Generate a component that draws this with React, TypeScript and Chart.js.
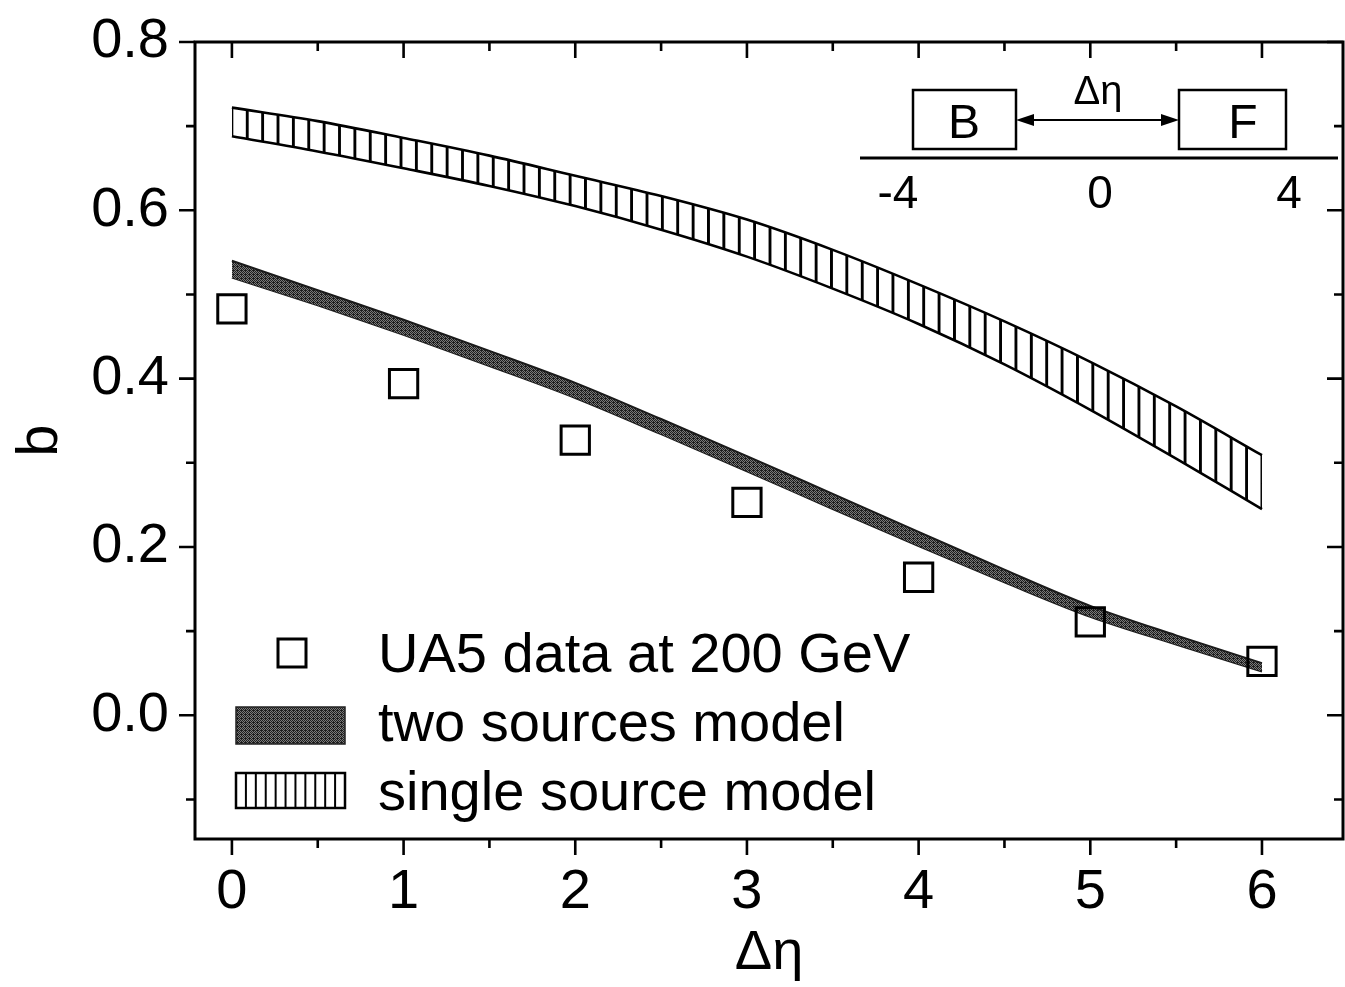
import React, { useEffect, useRef } from 'react';
import { Chart, registerables } from 'chart.js';

Chart.register(...registerables);

// ---- data ----
const etaGrid = [0, 0.5, 1, 1.5, 2, 2.5, 3, 3.5, 4, 4.5, 5, 5.5, 6];
const singleUpper = [0.722, 0.706, 0.686, 0.665, 0.641, 0.617, 0.589, 0.553, 0.512, 0.468, 0.42, 0.367, 0.309];
const singleLower = [0.688, 0.67, 0.65, 0.629, 0.605, 0.577, 0.545, 0.507, 0.465, 0.417, 0.363, 0.305, 0.245];
const twoUpper = [0.54, 0.505, 0.47, 0.433, 0.395, 0.352, 0.308, 0.263, 0.218, 0.173, 0.13, 0.095, 0.062];
const twoLower = [0.52, 0.487, 0.452, 0.415, 0.377, 0.334, 0.29, 0.245, 0.201, 0.158, 0.117, 0.084, 0.052];
const ua5Eta = [0, 1, 2, 3, 4, 5, 6];
const ua5B = [0.483, 0.394, 0.327, 0.253, 0.164, 0.111, 0.064];

const xTicks = [0, 1, 2, 3, 4, 5, 6];
const xMinorTicks = [0.5, 1.5, 2.5, 3.5, 4.5, 5.5];
const yTicks = [0, 0.2, 0.4, 0.6, 0.8];
const yMinorTicks = [-0.1, 0.1, 0.3, 0.5, 0.7];

const legendLabels = ['UA5 data at 200 GeV', 'two sources model', 'single source model'];
const insetAxisLabels = ['-4', '0', '4'];
const insetBoxLabels = ['B', 'F'];
const xTitle = 'Δη';
const yTitle = 'b';

const FONT = '"Liberation Sans", Arial, Helvetica, sans-serif';

function makeHatch(): HTMLCanvasElement {
  const c = document.createElement('canvas');
  c.width = 16;
  c.height = 4;
  const g = c.getContext('2d')!;
  g.fillStyle = '#000';
  g.fillRect(0, 0, 3, 4);
  return c;
}

function makeDark(): HTMLCanvasElement {
  const c = document.createElement('canvas');
  c.width = 4;
  c.height = 4;
  const g = c.getContext('2d')!;
  g.fillStyle = '#7a7a7a';
  g.fillRect(0, 0, 4, 4);
  g.fillStyle = '#1e1e1e';
  for (let i = 0; i < 4; i++) {
    for (let j = 0; j < 4; j++) {
      if ((i + j) % 2 === 0 || (i === 1 && j === 2)) g.fillRect(i, j, 1, 1);
    }
  }
  return c;
}

const zeroPad = (s: any) => {
  s.paddingTop = 0;
  s.paddingBottom = 0;
  s.paddingLeft = 0;
  s.paddingRight = 0;
};

export default function App() {
  const ref = useRef<HTMLCanvasElement | null>(null);

  useEffect(() => {
    const canvas = ref.current!;
    const ctx0 = canvas.getContext('2d')!;
    const hatch = ctx0.createPattern(makeHatch(), 'repeat')!;
    const dark = ctx0.createPattern(makeDark(), 'repeat')!;

    const patternAlign = {
      id: 'patternAlign',
      beforeDraw(chart: any) {
        const x = chart.scales.x;
        const x0 = x.getPixelForValue(0);
        const x6 = x.getPixelForValue(6);
        const step = (x6 - x0) / 67;
        hatch.setTransform(new DOMMatrix([step / 16, 0, 0, 1, x0 - 1.5, 0]));
      },
    };

    const frame = {
      id: 'frame',
      afterDraw(chart: any) {
        const { ctx, chartArea: a, scales } = chart;
        const x = scales.x;
        const y = scales.y;
        ctx.save();
        ctx.strokeStyle = '#000';
        ctx.lineWidth = 3;
        ctx.strokeRect(a.left, a.top, a.right - a.left, a.bottom - a.top);
        ctx.lineWidth = 2.6;
        const MAJ = 16;
        const MIN = 9;
        const vt = (vals: number[], len: number) => {
          vals.forEach((v) => {
            const px = x.getPixelForValue(v);
            ctx.beginPath();
            ctx.moveTo(px, a.bottom);
            ctx.lineTo(px, a.bottom + len);
            ctx.moveTo(px, a.top);
            ctx.lineTo(px, a.top + len);
            ctx.stroke();
          });
        };
        const ht = (vals: number[], len: number) => {
          vals.forEach((v) => {
            const py = y.getPixelForValue(v);
            ctx.beginPath();
            ctx.moveTo(a.left - len, py);
            ctx.lineTo(a.left, py);
            ctx.moveTo(a.right - len, py);
            ctx.lineTo(a.right, py);
            ctx.stroke();
          });
        };
        vt(xTicks, MAJ);
        vt(xMinorTicks, MIN);
        ht(yTicks, MAJ);
        ht(yMinorTicks, MIN);
        ctx.restore();
      },
    };

    const legendAndInset = {
      id: 'legendAndInset',
      afterDraw(chart: any) {
        const { ctx, chartArea: a } = chart;
        ctx.save();
        ctx.fillStyle = '#000';
        ctx.strokeStyle = '#000';
        // ---- legend ----
        const lx = a.left + 41;
        const sw = 109;
        ctx.font = `56px ${FONT}`;
        ctx.textAlign = 'left';
        ctx.textBaseline = 'alphabetic';
        ctx.lineWidth = 3;
        ctx.strokeRect(278, 639, 28, 28);
        ctx.fillText(legendLabels[0], 378, 672);
        ctx.fillStyle = dark;
        ctx.fillRect(lx, 707, sw, 37);
        ctx.lineWidth = 1.5;
        ctx.strokeStyle = '#222';
        ctx.strokeRect(lx, 707, sw, 37);
        ctx.fillStyle = '#000';
        ctx.fillText(legendLabels[1], 378, 741);
        ctx.strokeStyle = '#000';
        ctx.lineWidth = 2.5;
        ctx.strokeRect(lx, 773, sw, 35);
        ctx.lineWidth = 2;
        for (let k = 1; k < 11; k++) {
          const xx = lx + k * (sw / 11);
          ctx.beginPath();
          ctx.moveTo(xx, 773);
          ctx.lineTo(xx, 808);
          ctx.stroke();
        }
        ctx.fillText(legendLabels[2], 378, 810);

        // ---- inset ----
        const ox = a.right;
        const oy = a.top;
        ctx.lineWidth = 2.5;
        ctx.strokeRect(ox - 430, oy + 48, 103, 59);
        ctx.strokeRect(ox - 164, oy + 48, 107, 59);
        ctx.font = `48px ${FONT}`;
        ctx.textAlign = 'center';
        ctx.fillText(insetBoxLabels[0], ox - 379, oy + 96);
        ctx.fillText(insetBoxLabels[1], ox - 100, oy + 96);
        const ay = oy + 78;
        const x1 = ox - 327;
        const x2 = ox - 164;
        ctx.lineWidth = 2;
        ctx.beginPath();
        ctx.moveTo(x1 + 10, ay);
        ctx.lineTo(x2 - 10, ay);
        ctx.stroke();
        ctx.beginPath();
        ctx.moveTo(x1, ay);
        ctx.lineTo(x1 + 18, ay - 6);
        ctx.lineTo(x1 + 18, ay + 6);
        ctx.closePath();
        ctx.fill();
        ctx.beginPath();
        ctx.moveTo(x2, ay);
        ctx.lineTo(x2 - 18, ay - 6);
        ctx.lineTo(x2 - 18, ay + 6);
        ctx.closePath();
        ctx.fill();
        ctx.font = `40px ${FONT}`;
        ctx.fillText(xTitle, ox - 245, oy + 62);
        ctx.lineWidth = 3;
        ctx.beginPath();
        ctx.moveTo(ox - 483, oy + 116);
        ctx.lineTo(ox - 5, oy + 116);
        ctx.stroke();
        ctx.font = `46px ${FONT}`;
        const lxs = [ox - 445, ox - 243, ox - 54];
        insetAxisLabels.forEach((t, i) => ctx.fillText(t, lxs[i], oy + 166));
        ctx.restore();
      },
    };

    const chart = new Chart(canvas, {
      type: 'line',
      data: {
        datasets: [
          {
            label: legendLabels[0],
            data: ua5Eta.map((e, i) => ({ x: e, y: ua5B[i] })),
            showLine: false,
            pointStyle: 'rect',
            pointRadius: 20,
            pointBorderWidth: 3,
            pointBorderColor: '#000',
            pointBackgroundColor: 'rgba(0,0,0,0)',
            borderColor: '#000',
            backgroundColor: 'rgba(0,0,0,0)',
            fill: false,
          },
          {
            label: 'single upper',
            data: etaGrid.map((e, i) => ({ x: e, y: singleUpper[i] })),
            borderColor: '#000',
            borderWidth: 2.6,
            pointRadius: 0,
            cubicInterpolationMode: 'monotone',
            fill: '+1',
            backgroundColor: hatch,
          },
          {
            label: 'single lower',
            data: etaGrid.map((e, i) => ({ x: e, y: singleLower[i] })),
            borderColor: '#000',
            borderWidth: 2.6,
            pointRadius: 0,
            cubicInterpolationMode: 'monotone',
            fill: false,
          },
          {
            label: 'two upper',
            data: etaGrid.map((e, i) => ({ x: e, y: twoUpper[i] })),
            borderColor: '#1a1a1a',
            borderWidth: 2,
            pointRadius: 0,
            cubicInterpolationMode: 'monotone',
            fill: '+1',
            backgroundColor: dark,
          },
          {
            label: 'two lower',
            data: etaGrid.map((e, i) => ({ x: e, y: twoLower[i] })),
            borderColor: '#1a1a1a',
            borderWidth: 2,
            pointRadius: 0,
            cubicInterpolationMode: 'monotone',
            fill: false,
          },
        ],
      },
      options: {
        responsive: false,
        animation: false,
        layout: { autoPadding: false, padding: { top: 42, right: 2, left: 0, bottom: 0 } },
        plugins: {
          legend: { display: false },
          tooltip: { enabled: false },
        },
        scales: {
          x: {
            type: 'linear',
            min: -0.215,
            max: 6.472,
            afterFit: (s: any) => {
              s.height = 148;
              zeroPad(s);
            },
            afterBuildTicks: (s: any) => {
              s.ticks = xTicks.map((v) => ({ value: v }));
            },
            grid: { display: false, drawTicks: false },
            border: { display: false },
            ticks: {
              color: '#000',
              font: { family: FONT, size: 56 },
              padding: 20,
              maxRotation: 0,
              autoSkip: false,
              callback: (v: any) => String(v),
            },
            title: {
              display: true,
              text: xTitle,
              color: '#000',
              font: { family: FONT, size: 56 },
              padding: { top: 0, bottom: 0 },
            },
          },
          y: {
            type: 'linear',
            min: -0.147,
            max: 0.8,
            afterFit: (s: any) => {
              s.width = 195;
              zeroPad(s);
            },
            afterBuildTicks: (s: any) => {
              s.ticks = yTicks.map((v) => ({ value: v }));
            },
            grid: { display: false, drawTicks: false },
            border: { display: false },
            ticks: {
              color: '#000',
              font: { family: FONT, size: 56 },
              padding: 26,
              autoSkip: false,
              callback: (v: any) => Number(v).toFixed(1),
            },
            title: {
              display: true,
              text: yTitle,
              color: '#000',
              font: { family: FONT, size: 58 },
              padding: { top: 6, bottom: 0 },
            },
          },
        },
      },
      plugins: [patternAlign, frame, legendAndInset],
    } as any);

    return () => chart.destroy();
  }, []);

  return (
    <div style={{ position: 'absolute', left: 0, top: 0, width: 1345, height: 987, background: '#fff' }}>
      <canvas ref={ref} width={1345} height={987} style={{ display: 'block' }} />
    </div>
  );
}
